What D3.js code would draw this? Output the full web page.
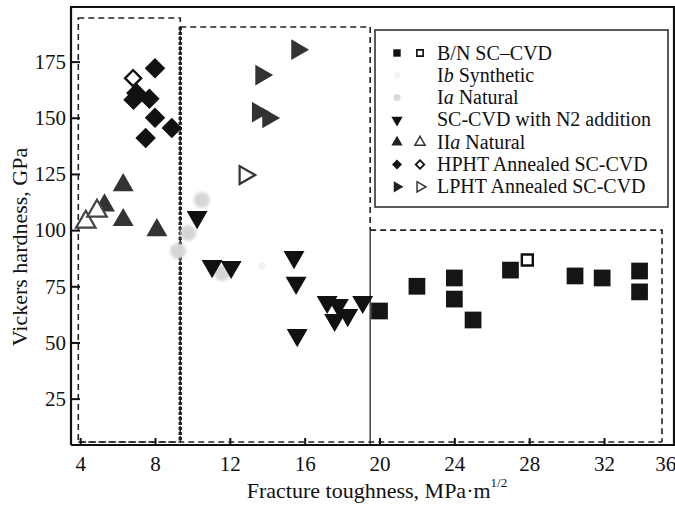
<!DOCTYPE html>
<html>
<head>
<meta charset="utf-8">
<script src="https://cdn.jsdelivr.net/npm/d3@7"></script>
<style>
  body { margin: 0; background: #fff; }
  svg { display: block; }
  text { font-family: "Liberation Serif", "Times New Roman", serif; fill: #111; }
</style>
</head>
<body>
<svg id="chart" width="675" height="515"></svg>
<script>
// ---- data (toughness MPa·m^1/2, hardness GPa) ----
var xTicks = [4, 8, 12, 16, 20, 24, 28, 32, 36];
var yTicks = [25, 50, 75, 100, 125, 150, 175];

var bnFilled = [[20, 64], [22, 75], [24, 78.7], [24, 69.3], [25, 60], [27, 82.2],
                [30.45, 79.6], [31.9, 78.7], [33.9, 81.8], [33.9, 72.5]];
var bnOpen = [[27.9, 86.7]];
var ibSynthetic = [[13.7, 84]];
var iaNatural = [[10.5, 113.4], [9.77, 98.7], [9.23, 90.7], [11.6, 80.9]];
var scN2 = [[10.25, 105.8], [11.05, 84], [12.07, 83.6], [15.43, 88], [15.54, 76.5],
            [15.6, 53.3], [17.2, 68], [17.8, 66.7], [17.6, 60], [18.3, 62.2], [19.1, 68]];
var iiaFilled = [[5.3, 111], [6.3, 120], [6.3, 104.5], [8.1, 100]];
var iiaOpen = [[4.3, 103.6], [4.9, 108.5]];
var hphtFilled = [[8.0, 172], [7.0, 161], [7.7, 158.5], [6.85, 158], [8.0, 150], [7.5, 141], [8.9, 145.5]];
var hphtOpen = [[6.83, 167.6]];
var lphtFilled = [[15.6, 180.3], [13.68, 169], [13.5, 152.5], [14.05, 149.9]];
var lphtOpen = [[12.8, 124.5]];

// dashed regions: [x0, x1, yTop]
var regions = [[3.9, 9.35, 194.4], [9.35, 19.5, 190.4], [19.5, 35.1, 100]];

var legendLabels = [
  [["B/N SC–CVD", false]],
  [["I", false], ["b", true], [" Synthetic", false]],
  [["I", false], ["a", true], [" Natural", false]],
  [["SC-CVD with N2 addition", false]],
  [["II", false], ["a", true], [" Natural", false]],
  [["HPHT Annealed SC-CVD", false]],
  [["LPHT Annealed SC-CVD", false]]
];

var svg = d3.select("#chart");
var margin = {left: 71, right: 674, top: 7, bottom: 445};

var x = d3.scaleLinear().domain([3.51, 35.74]).range([margin.left, margin.right]);
var y = d3.scaleLinear().domain([4.36, 199.3]).range([margin.bottom, margin.top]);

var defs = svg.append("defs");
defs.append("filter").attr("id", "soft")
  .append("feGaussianBlur").attr("stdDeviation", 1.6);

// dashed boxes
var boxes = svg.append("g").attr("fill", "none").attr("stroke", "#222");
var yb = y(5.7);
// box 1
boxes.append("rect")
  .attr("x", x(regions[0][0])).attr("y", y(regions[0][2]))
  .attr("width", x(regions[0][1]) - x(regions[0][0]))
  .attr("height", yb - y(regions[0][2]))
  .attr("stroke-width", 1.6).attr("stroke-dasharray", "6,4");
// box 2 (top/right dashed, left edge thick hatched)
boxes.append("path")
  .attr("d", "M" + x(regions[1][0]) + "," + y(regions[1][2]) + "H" + x(regions[1][1]) + "V" + y(regions[2][2]))
  .attr("stroke-width", 1.6).attr("stroke-dasharray", "6,4");
boxes.append("line")
  .attr("x1", x(regions[1][0])).attr("x2", x(regions[1][0]))
  .attr("y1", y(regions[1][2])).attr("y2", yb)
  .attr("stroke-width", 3.4).attr("stroke-dasharray", "3,2");
// box 3
boxes.append("path")
  .attr("d", "M" + x(regions[2][0]) + "," + y(regions[2][2]) + "H" + x(regions[2][1]) + "V" + yb)
  .attr("stroke-width", 1.6).attr("stroke-dasharray", "6,4");
boxes.append("line")
  .attr("x1", x(regions[2][0])).attr("x2", x(regions[2][0]))
  .attr("y1", y(regions[2][2])).attr("y2", margin.bottom)
  .attr("stroke-width", 1.3);
boxes.append("line")
  .attr("x1", x(regions[0][0])).attr("x2", x(regions[2][1]))
  .attr("y1", yb).attr("y2", yb)
  .attr("stroke-width", 1.6).attr("stroke-dasharray", "6,4");

// axes
var xAxis = d3.axisBottom(x).tickValues(xTicks).tickSize(-7).tickPadding(11);
var yAxis = d3.axisLeft(y).tickValues(yTicks).tickSize(-9).tickPadding(5);

var gx = svg.append("g").attr("transform", "translate(0," + margin.bottom + ")").call(xAxis);
var gy = svg.append("g").attr("transform", "translate(" + margin.left + ",0)").call(yAxis);
[gx, gy].forEach(function(g) {
  g.select(".domain").remove();
  g.selectAll(".tick line").attr("stroke", "#111").attr("stroke-width", 2);
  g.selectAll(".tick text").attr("font-size", 21).attr("font-family", "Liberation Serif, serif").attr("fill", "#111");
});
gx.selectAll(".tick text").filter(function(d) { return d === 36; })
  .attr("text-anchor", "end").attr("dx", "-3");

// frame
svg.append("path")
  .attr("d", "M" + margin.left + "," + margin.bottom + "V" + margin.top + "H" + margin.right +
             "V" + margin.bottom + "H" + margin.left)
  .attr("fill", "none").attr("stroke", "#111").attr("stroke-width", 2.2);

// markers
var sym = function(type, size, rot) {
  return function(sel) {
    sel.attr("d", d3.symbol().type(type).size(size)())
       .attr("transform", function(d) { return "translate(" + x(d[0]) + "," + y(d[1]) + ") rotate(" + rot + ")"; });
  };
};
var plot = svg.append("g");

plot.selectAll(".ia").data(iaNatural).enter().append("circle")
  .attr("cx", function(d) { return x(d[0]); }).attr("cy", function(d) { return y(d[1]); })
  .attr("r", 8).attr("fill", "#d6d6d6").attr("filter", "url(#soft)");
plot.selectAll(".ib").data(ibSynthetic).enter().append("circle")
  .attr("cx", function(d) { return x(d[0]); }).attr("cy", function(d) { return y(d[1]); })
  .attr("r", 4).attr("fill", "#f3f3f3");

plot.selectAll(".iia").data(iiaFilled).enter().append("path").call(sym(d3.symbolTriangle, 190, 0)).attr("fill", "#333");
plot.selectAll(".iiao").data(iiaOpen).enter().append("path").call(sym(d3.symbolTriangle, 165, 0))
  .attr("fill", "#fff").attr("stroke", "#444").attr("stroke-width", 2.2);
plot.selectAll(".hp").data(hphtFilled).enter().append("path").call(sym(d3.symbolSquare, 210, 45)).attr("fill", "#111");
plot.selectAll(".hpo").data(hphtOpen).enter().append("path").call(sym(d3.symbolSquare, 130, 45))
  .attr("fill", "#fff").attr("stroke", "#111").attr("stroke-width", 2.4);
plot.selectAll(".lp").data(lphtFilled).enter().append("path").call(sym(d3.symbolTriangle, 185, 90)).attr("fill", "#333");
plot.selectAll(".lpo").data(lphtOpen).enter().append("path").call(sym(d3.symbolTriangle, 140, 90))
  .attr("fill", "#fff").attr("stroke", "#333").attr("stroke-width", 2.2);
plot.selectAll(".n2").data(scN2).enter().append("path").call(sym(d3.symbolTriangle, 190, 180)).attr("fill", "#111");
plot.selectAll(".bn").data(bnFilled).enter().append("path").call(sym(d3.symbolSquare, 280, 0)).attr("fill", "#151515");
plot.selectAll(".bno").data(bnOpen).enter().append("path").call(sym(d3.symbolSquare, 120, 0))
  .attr("fill", "#fff").attr("stroke", "#111").attr("stroke-width", 2.4);

// legend
var lg = svg.append("g");
lg.append("rect").attr("x", 375).attr("y", 30).attr("width", 293).attr("height", 177)
  .attr("fill", "#fff").attr("stroke", "#333").attr("stroke-width", 1.6);
var rowY = function(i) { return 53 + i * 22.3; };
var fx = 397, ox = 420;
var lsym = function(type, size, rot, i, col) {
  return lg.append("path").attr("d", d3.symbol().type(type).size(size)())
    .attr("transform", "translate(" + col + "," + rowY(i) + ") rotate(" + rot + ")");
};
lsym(d3.symbolSquare, 55, 0, 0, fx).attr("fill", "#111");
lsym(d3.symbolSquare, 40, 0, 0, ox).attr("fill", "#fff").attr("stroke", "#111").attr("stroke-width", 1.6);
lg.append("circle").attr("cx", fx).attr("cy", rowY(1)).attr("r", 3).attr("fill", "#f3f3f3");
lg.append("circle").attr("cx", fx).attr("cy", rowY(2)).attr("r", 3.5).attr("fill", "#dadada");
lsym(d3.symbolTriangle, 55, 180, 3, fx).attr("fill", "#111");
lsym(d3.symbolTriangle, 55, 0, 4, fx).attr("fill", "#222");
lsym(d3.symbolTriangle, 45, 0, 4, ox).attr("fill", "#fff").attr("stroke", "#333").attr("stroke-width", 1.5);
lsym(d3.symbolSquare, 50, 45, 5, fx).attr("fill", "#111");
lsym(d3.symbolSquare, 36, 45, 5, ox).attr("fill", "#fff").attr("stroke", "#111").attr("stroke-width", 1.8);
lsym(d3.symbolTriangle, 55, 90, 6, fx).attr("fill", "#222");
lsym(d3.symbolTriangle, 45, 90, 6, ox).attr("fill", "#fff").attr("stroke", "#333").attr("stroke-width", 1.5);

legendLabels.forEach(function(parts, i) {
  var t = lg.append("text").attr("x", 437).attr("y", rowY(i) + 6.5).attr("font-size", 20);
  parts.forEach(function(p) {
    t.append("tspan").attr("font-style", p[1] ? "italic" : "normal").text(p[0]);
  });
});

// axis titles
var xt = svg.append("text").attr("x", 377).attr("y", 498).attr("text-anchor", "middle").attr("font-size", 22);
xt.append("tspan").text("Fracture toughness, MPa·m");
xt.append("tspan").attr("font-size", 13).attr("dy", -11).text("1/2");

svg.append("text").attr("transform", "translate(27,247) rotate(-90)")
  .attr("text-anchor", "middle").attr("font-size", 22).text("Vickers hardness, GPa");
</script>
</body>
</html>
